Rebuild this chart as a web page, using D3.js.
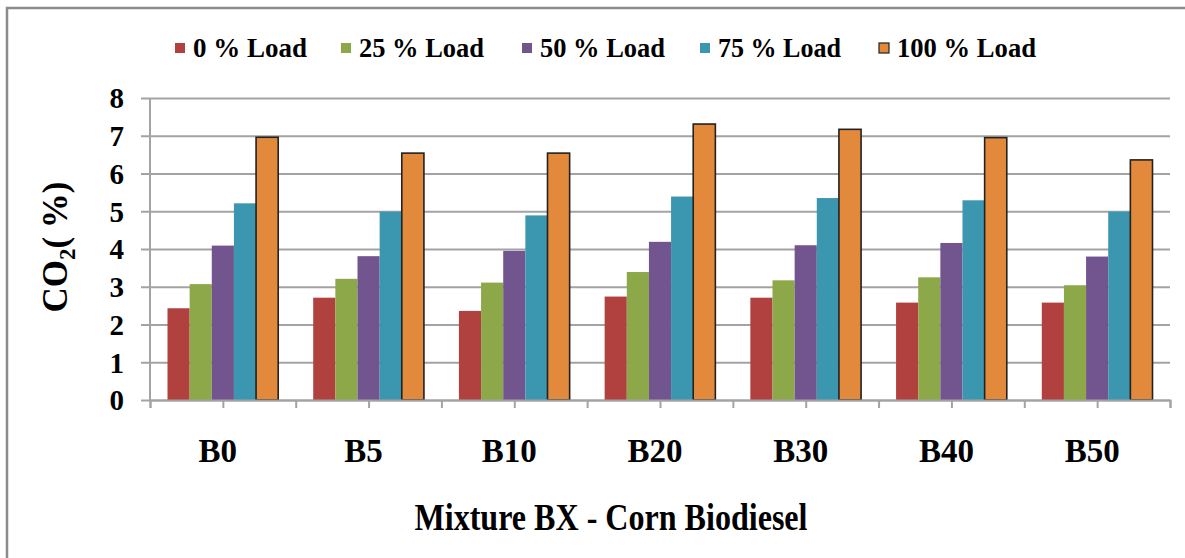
<!DOCTYPE html>
<html>
<head>
<meta charset="utf-8">
<script src="https://cdn.jsdelivr.net/npm/d3@7"></script>
<style>
  body { margin: 0; background: #fff; }
  svg text { font-family: "Liberation Serif", "DejaVu Serif", "Noto Serif", "Times New Roman", serif; font-weight: bold; fill: #000; }
</style>
</head>
<body>
<script>
(function () {

    //chart data
    var categories = ["B0", "B5", "B10", "B20", "B30", "B40", "B50"];
    var seriesNames = ["0 % Load", "25 % Load", "50 % Load", "75 % Load", "100 % Load"];
    var load0   = [2.43, 2.71, 2.36, 2.74, 2.71, 2.58, 2.58];
    var load25  = [3.07, 3.21, 3.11, 3.39, 3.17, 3.25, 3.04];
    var load50  = [4.09, 3.81, 3.95, 4.19, 4.10, 4.16, 3.80];
    var load75  = [5.21, 4.99, 4.89, 5.39, 5.35, 5.29, 4.99];
    var load100 = [6.96, 6.54, 6.54, 7.31, 7.17, 6.95, 6.36];
    var yTicks = [0, 1, 2, 3, 4, 5, 6, 7, 8];

    var seriesValues = [load0, load25, load50, load75, load100];
    var colors = ["#B0413E", "#8DA848", "#72558F", "#3B96B0", "#E3893B"];

    var width = 1185, height = 558;
    var left = 150, right = 1170, top = 98, bottom = 400;

    var svg = d3.select("body").append("svg")
        .attr("width", width)
        .attr("height", height);

    //outer frame
    svg.append("rect")
        .attr("x", 7).attr("y", 8)
        .attr("width", 1250).attr("height", 700)
        .attr("fill", "none")
        .attr("stroke", "#8c8c8c")
        .attr("stroke-width", 2.5);

    var x0 = d3.scaleBand().domain(categories).range([left, right]);
    var pad = 17.5;
    var x1 = d3.scaleBand().domain(seriesNames).range([pad, x0.bandwidth() - pad]);
    var y = d3.scaleLinear().domain([0, 8]).range([bottom, top]);

    //y axis with gridlines
    var yAxis = svg.append("g")
        .attr("transform", "translate(" + left + ",0)")
        .call(d3.axisLeft(y).tickValues(yTicks).tickSize(-(right - left)).tickPadding(0).tickFormat(d3.format("d")));
    yAxis.select(".domain").remove();
    yAxis.attr("font-family", null).attr("font-size", null);
    yAxis.selectAll(".tick line")
        .attr("x1", -9)
        .attr("stroke", "#a3a3a3")
        .attr("stroke-width", 2);
    yAxis.selectAll(".tick text")
        .attr("x", -26)
        .attr("font-size", 29)
        .attr("dy", "0.34em");

    svg.append("line")
        .attr("x1", left).attr("x2", left)
        .attr("y1", top).attr("y2", bottom)
        .attr("stroke", "#a3a3a3").attr("stroke-width", 2);

    //bars
    var groups = svg.selectAll(".grp")
        .data(categories)
        .enter().append("g")
        .attr("class", "grp")
        .attr("transform", function (d) { return "translate(" + x0(d) + ",0)"; });

    groups.selectAll("rect")
        .data(function (d, i) {
            return seriesNames.map(function (s, j) { return { s: s, j: j, v: seriesValues[j][i] }; });
        })
        .enter().append("rect")
        .attr("x", function (d) { return x1(d.s); })
        .attr("width", x1.bandwidth())
        .attr("y", function (d) { return y(d.v); })
        .attr("height", function (d) { return y(0) - y(d.v); })
        .attr("fill", function (d) { return colors[d.j]; })
        .attr("stroke", function (d) { return d.j === 4 ? "#222" : "none"; })
        .attr("stroke-width", 1.6);

    //x axis: tick marks at half-band positions
    var tickScale = d3.scaleLinear().domain([0, categories.length * 2]).range([left, right]);
    var xTicks = svg.append("g")
        .attr("transform", "translate(0," + bottom + ")")
        .call(d3.axisBottom(tickScale).ticks(categories.length * 2).tickSize(8).tickFormat(""));
    xTicks.selectAll("path, line").attr("stroke", "#a3a3a3").attr("stroke-width", 2);

    var xLabels = svg.append("g")
        .attr("transform", "translate(0," + bottom + ")")
        .call(d3.axisBottom(x0).tickSize(0).tickPadding(0));
    xLabels.select(".domain").remove();
    xLabels.attr("font-family", null).attr("font-size", null);
    xLabels.selectAll("text")
        .attr("y", 62)
        .attr("dy", 0)
        .attr("dx", -5)
        .attr("font-size", 33);

    //axis titles
    svg.append("text")
        .attr("x", 611).attr("y", 530)
        .attr("text-anchor", "middle")
        .attr("font-size", 38)
        .attr("textLength", 393)
        .attr("lengthAdjust", "spacingAndGlyphs")
        .text("Mixture BX - Corn Biodiesel");

    var yTitle = svg.append("text")
        .attr("transform", "translate(67,247) rotate(-90)")
        .attr("text-anchor", "middle")
        .attr("font-size", 35);
    yTitle.append("tspan").text("CO");
    yTitle.append("tspan").attr("font-size", 23).attr("dy", 8).text("2");
    yTitle.append("tspan").attr("dy", -8).text("( %)");

    //legend
    var legendX = [175, 341, 522, 700, 879];
    var legendLen = [114, 125, 125, 123, 139];
    var legend = svg.selectAll(".leg")
        .data(seriesNames)
        .enter().append("g")
        .attr("class", "leg")
        .attr("transform", function (d, i) { return "translate(" + legendX[i] + ",43)"; });
    legend.append("rect")
        .attr("width", 10).attr("height", 10)
        .attr("fill", function (d, i) { return colors[i]; })
        .attr("stroke", function (d, i) { return i === 4 ? "#222" : "none"; })
        .attr("stroke-width", 1.2);
    legend.append("text")
        .attr("x", 18).attr("y", 14)
        .attr("font-size", 27)
        .attr("textLength", function (d, i) { return legendLen[i]; })
        .attr("lengthAdjust", "spacingAndGlyphs")
        .text(function (d) { return d; });

})();
</script>
</body>
</html>
